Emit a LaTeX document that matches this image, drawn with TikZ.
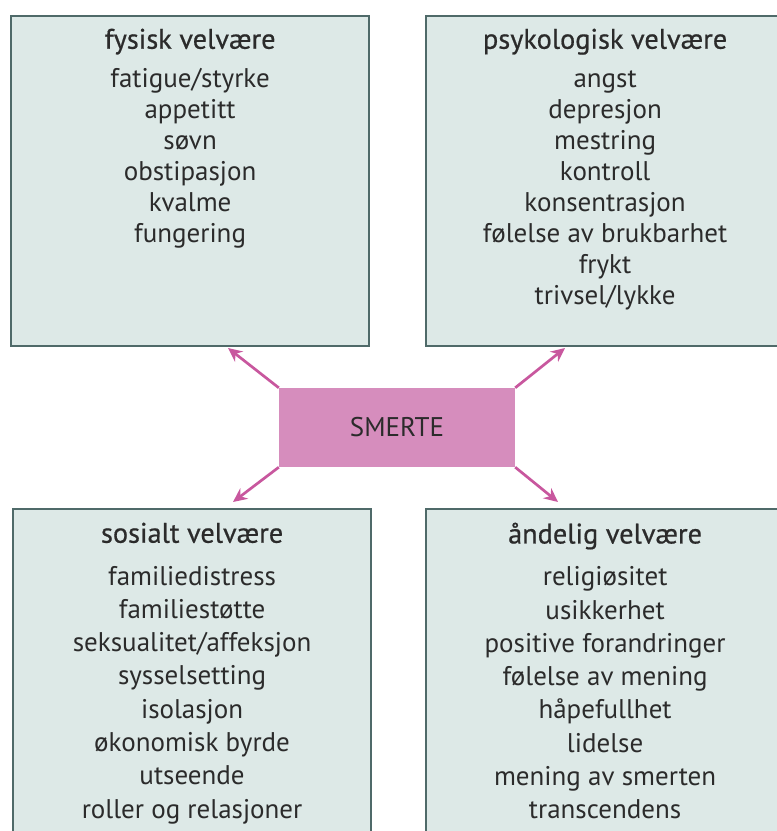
\documentclass[tikz,border=0pt]{standalone}
\usepackage{fontspec}
\setmainfont{PT Sans}
\newfontfamily\headfont[FakeBold=0.6]{PT Sans}
\newcommand{\areatitle}[1]{{\headfont\fontsize{28.3}{31}\selectfont #1}}
\usetikzlibrary{arrows.meta,positioning,calc}
\definecolor{boxfill}{HTML}{DDE9E7}
\definecolor{boxline}{HTML}{4F6A69}
\definecolor{painfill}{HTML}{D68DBD}
\definecolor{painline}{HTML}{C8579E}
\definecolor{inktext}{HTML}{2B2B2B}
\tikzset{
    area/.style={draw=boxline, fill=boxfill, line width=2.2pt, minimum width=358pt, minimum height=330pt, anchor=north west, inner sep=0pt},
    items/.style={align=center, inner sep=0pt, text=inktext, font=\fontsize{27}{31}\selectfont},
    itemsloose/.style={items, font=\fontsize{27}{33.3}\selectfont},
    pain/.style={fill=painfill, minimum width=236pt, minimum height=79pt, inner sep=0pt, text=inktext, font=\fontsize{27}{31}\selectfont},
    effect/.style={-{Stealth[length=14pt, width=13pt]}, line width=2.7pt, painline}
}

\begin{document}
\begin{tikzpicture}[x=1pt, y=-1pt]
\useasboundingbox (0,0) rectangle (777,831);
\clip (0,0) rectangle (777,831);

% the four areas
\node[area] (fysisk) at (10,15) {};
\node[area] (psyk) at (425,15) {};
\node[area] (sosialt) at (12,508) {};
\node[area] (andelig) at (425,508) {};

\node[items, below=13.5pt of fysisk.north] (fysisk-t) {\areatitle{fysisk velvære}\\[8pt]
  fatigue/styrke\\ appetitt\\ søvn\\ obstipasjon\\ kvalme\\ fungering};
\node[items, below=13.5pt of psyk.north] (psyk-t) {\areatitle{psykologisk velvære}\\[8pt]
  angst\\ depresjon\\ mestring\\ kontroll\\ konsentrasjon\\ følelse av brukbarhet\\ frykt\\ trivsel/lykke};
\node[itemsloose, below=14.5pt of sosialt.north] (sosialt-t) {\areatitle{sosialt velvære}\\[9pt]
  familiedistress\\ familiestøtte\\ seksualitet/affeksjon\\ sysselsetting\\ isolasjon\\ økonomisk byrde\\ utseende\\ roller og relasjoner};
\node[itemsloose, below=14.5pt of andelig.north] (andelig-t) {\areatitle{åndelig velvære}\\[9pt]
  religiøsitet\\ usikkerhet\\ positive forandringer\\ følelse av mening\\ håpefullhet\\ lidelse\\ mening av smerten\\ transcendens};

% centre
\node[pain] (smerte) at (397,427.5) {SMERTE};

\coordinate (to-fysisk) at (228,348);
\coordinate (to-psyk) at (565,348);
\coordinate (to-sosialt) at (233,502);
\coordinate (to-andelig) at (558,502);

\draw[effect] (smerte.north west) -- (to-fysisk);
\draw[effect] (smerte.north east) -- (to-psyk);
\draw[effect] (smerte.south west) -- (to-sosialt);
\draw[effect] (smerte.south east) -- (to-andelig);
\end{tikzpicture}
\end{document}
